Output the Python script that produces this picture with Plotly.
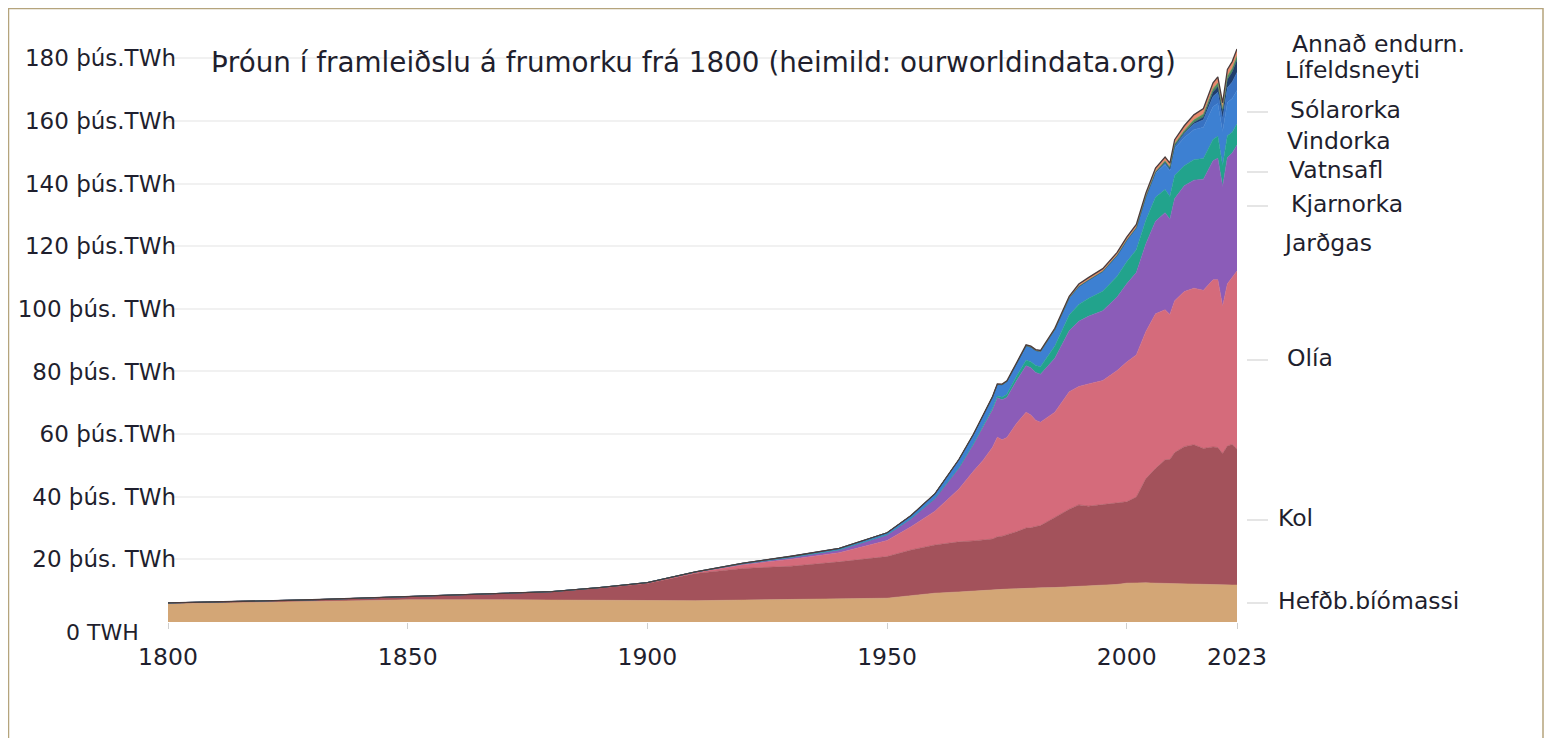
import plotly.graph_objects as go

# ---------------- data (þúsund TWh) ----------------
years = [1800, 1810, 1820, 1830, 1840, 1850, 1860, 1870, 1880, 1890,
         1900, 1910, 1920, 1930, 1940, 1950, 1955, 1960, 1965, 1968,
         1970, 1972, 1973, 1974, 1975, 1977, 1979, 1980, 1981, 1982,
         1985, 1988, 1990, 1992, 1995, 1998, 2000, 2002, 2004, 2006,
         2008, 2009, 2010, 2012, 2014, 2016, 2018, 2019, 2020, 2021,
         2022, 2023]

hefdb_biomassi = [5.8, 6.0, 6.2, 6.5, 6.8, 7.1, 7.2, 7.1, 7.0, 6.9,
                  6.7, 6.8, 7.0, 7.2, 7.4, 7.6, 8.4, 9.2, 9.6, 9.9,
                  10.2, 10.3, 10.4, 10.4, 10.5, 10.6, 10.8, 10.8, 10.9, 10.9,
                  11.0, 11.2, 11.3, 11.4, 11.7, 12.0, 12.4, 12.5, 12.5, 12.4,
                  12.3, 12.3, 12.2, 12.2, 12.1, 12.0, 11.9, 11.9, 11.8, 11.8,
                  11.8, 11.8]

kol = [0.3, 0.4, 0.5, 0.6, 0.8, 1.0, 1.4, 1.9, 2.6, 3.9,
       5.6, 8.7, 10.1, 10.6, 11.8, 13.3, 14.6, 15.4, 16.0, 16.0,
       16.0, 16.2, 16.8, 17.0, 17.4, 18.2, 19.2, 19.3, 19.6, 19.9,
       22.4, 24.8, 26.1, 25.6, 25.8, 25.9, 26.0, 27.4, 33.3, 36.6,
       39.5, 39.6, 41.9, 43.8, 44.5, 43.4, 44.0, 43.8, 42.0, 44.4,
       44.9, 43.4]

olia = [0, 0, 0, 0, 0, 0, 0, 0, 0.1, 0.2,
        0.2, 0.3, 1.2, 2.2, 2.9, 5.1, 7.4, 10.8, 16.9, 22.2,
        25.4, 29.3, 31.8, 30.8, 31.0, 34.6, 37.0, 36.0, 33.9, 33.0,
        33.6, 37.5, 37.8, 39.0, 39.6, 42.4, 44.6, 45.4, 47.0, 49.4,
        47.9, 46.3, 48.5, 49.5, 50.0, 50.5, 53.4, 53.6, 47.0, 51.8,
        53.2, 56.9]

jardgas = [0, 0, 0, 0, 0, 0, 0, 0, 0, 0,
           0.1, 0.15, 0.3, 0.6, 0.9, 1.8, 2.6, 4.0, 6.7, 8.6,
           10.7, 12.0, 12.6, 12.8, 12.8, 13.6, 14.8, 15.1, 15.3, 15.3,
           17.2, 19.5, 20.8, 21.6, 22.3, 23.5, 25.0, 26.3, 28.0, 29.6,
           31.0, 30.4, 32.6, 33.8, 34.5, 35.5, 38.0, 38.8, 38.3, 40.3,
           39.9, 40.2]

kjarnorka = [0, 0, 0, 0, 0, 0, 0, 0, 0, 0,
             0, 0, 0, 0, 0, 0, 0, 0, 0.07, 0.14,
             0.22, 0.43, 0.56, 0.77, 1.0, 1.5, 1.8, 1.9, 2.2, 2.4,
             3.9, 5.0, 5.4, 5.7, 6.2, 6.6, 7.0, 7.3, 7.6, 7.6,
             7.4, 7.3, 7.4, 6.4, 6.5, 6.6, 6.8, 7.0, 6.7, 7.0,
             6.6, 6.8]

vatnsafl = [0, 0, 0, 0, 0, 0, 0, 0, 0, 0,
            0, 0.05, 0.2, 0.4, 0.5, 0.7, 1.0, 1.6, 2.6, 3.0,
            3.3, 3.6, 3.7, 4.0, 4.1, 4.2, 4.6, 4.7, 4.8, 4.9,
            5.3, 5.5, 5.7, 5.8, 6.3, 6.6, 6.8, 6.8, 7.2, 7.6,
            8.0, 8.0, 8.5, 9.0, 9.6, 10.0, 10.4, 10.5, 10.8, 10.6,
            10.8, 10.6]

vindorka = [0, 0, 0, 0, 0, 0, 0, 0, 0, 0,
            0, 0, 0, 0, 0, 0, 0, 0, 0, 0,
            0, 0, 0, 0, 0, 0, 0, 0, 0, 0,
            0, 0, 0.01, 0.01, 0.02, 0.04, 0.08, 0.14, 0.22, 0.35,
            0.6, 0.75, 0.9, 1.3, 1.8, 2.4, 3.3, 3.6, 4.0, 4.7,
            5.2, 5.8]

solarorka = [0, 0, 0, 0, 0, 0, 0, 0, 0, 0,
             0, 0, 0, 0, 0, 0, 0, 0, 0, 0,
             0, 0, 0, 0, 0, 0, 0, 0, 0, 0,
             0, 0, 0, 0, 0, 0, 0.01, 0.01, 0.02, 0.03,
             0.06, 0.08, 0.1, 0.26, 0.5, 0.85, 1.45, 1.8, 2.2, 2.6,
             3.2, 4.0]

lifeldsneyti = [0, 0, 0, 0, 0, 0, 0, 0, 0, 0,
                0, 0, 0, 0, 0, 0, 0, 0, 0, 0,
                0, 0, 0, 0, 0, 0, 0, 0, 0, 0,
                0, 0, 0.1, 0.1, 0.11, 0.12, 0.13, 0.14, 0.18, 0.3,
                0.5, 0.55, 0.6, 0.7, 0.85, 0.95, 1.05, 1.1, 1.0, 1.15,
                1.2, 1.3]

annad_endurn = [0, 0, 0, 0, 0, 0, 0, 0, 0, 0,
                0, 0, 0, 0, 0, 0, 0, 0, 0.1, 0.12,
                0.15, 0.17, 0.18, 0.2, 0.2, 0.25, 0.3, 0.3, 0.3, 0.3,
                0.4, 0.5, 0.7, 0.75, 0.8, 0.85, 0.9, 0.95, 1.0, 1.1,
                1.2, 1.25, 1.3, 1.5, 1.6, 1.75, 1.9, 2.0, 2.0, 2.1,
                2.15, 2.2]

series_names = ["Hefðb.bíómassi", "Kol", "Olía", "Jarðgas", "Kjarnorka",
                "Vatnsafl", "Vindorka", "Sólarorka", "Lífeldsneyti", "Annað endurn."]
series_values = [hefdb_biomassi, kol, olia, jardgas, kjarnorka,
                 vatnsafl, vindorka, solarorka, lifeldsneyti, annad_endurn]

y_tickvals = [0, 20, 40, 60, 80, 100, 120, 140, 160, 180]
y_ticktext = ["", "20 þús. TWh", "40 þús. TWh", "60 þús.TWh", "80 þús. TWh",
              "100 þús. TWh", "120 þús.TWh", "140 þús.TWh", "160 þús.TWh", "180 þús.TWh"]
zero_label = "0 TWH"
x_tickvals = [1800, 1850, 1900, 1950, 2000, 2023]
x_ticktext = ["1800", "1850", "1900", "1950", "2000", "2023"]

title_text = "Þróun í framleiðslu á frumorku frá 1800 (heimild: ourworldindata.org)"

# ---------------- styling ----------------
colors = ["#d3a676", "#a3525b", "#d56b7b", "#8b5cb8", "#22a38c",
          "#3d80d2", "#3872c2", "#1f3d6c", "#4f8f5a", "#e88a6c"]

FONT = "DejaVu Sans"
TXT = "#1f1f2e"

OFF = 8                     # page body margin: the figure starts at (8, 8)
W, H = 1554 - OFF, 738 - OFF
PLOT_L, PLOT_R, PLOT_T, PLOT_B = 168, 1237, 27, 622   # page pixels
ML, MR = PLOT_L - OFF, (1554 - PLOT_R)
MT, MB = PLOT_T - OFF, 738 - PLOT_B
PW, PH = PLOT_R - PLOT_L, PLOT_B - PLOT_T


def px_x(px):
    return (px - PLOT_L) / PW


def px_y(py):
    return (PLOT_B - py) / PH


fig = go.Figure()
for i, (name, vals) in enumerate(zip(series_names, series_values)):
    top = (i == len(series_names) - 1)
    fig.add_trace(go.Scatter(
        x=years, y=vals, name=name, mode="lines",
        stackgroup="one",
        line=dict(width=1.3 if top else 0.6,
                  color="#4a3c3c" if top else colors[i]),
        fillcolor=colors[i],
        showlegend=False,
        hoverinfo="x+y+name",
    ))

# right-hand labels
label_pos = [  # (left px, centre px) in page pixels
    (1276, 601), (1276, 518), (1285, 358), (1281, 243), (1289, 204),
    (1287, 170), (1285, 141), (1288, 110), (1283, 70), (1290, 44)
]
annotations = []
for name, (lx, ly) in zip(series_names, label_pos):
    annotations.append(dict(
        text=name, xref="paper", yref="paper", x=px_x(lx), y=px_y(ly),
        xanchor="left", yanchor="middle", showarrow=False,
        font=dict(family=FONT, size=23.5, color=TXT)))

annotations.append(dict(
    text=title_text, xref="paper", yref="paper", x=px_x(209), y=px_y(62),
    xanchor="left", yanchor="middle", showarrow=False,
    font=dict(family=FONT, size=27.8, color=TXT)))

# the zero label sits lower and further left than the others
annotations.append(dict(
    text=zero_label, xref="paper", yref="paper", x=px_x(141), y=px_y(632),
    xanchor="right", yanchor="middle", showarrow=False,
    font=dict(family=FONT, size=22, color=TXT)))

shapes = [
    # outer frame
    dict(type="rect", xref="paper", yref="paper",
         x0=px_x(8.5), x1=px_x(1543), y0=px_y(760), y1=px_y(8.5),
         line=dict(color="#b5a47c", width=1.5), fillcolor="rgba(0,0,0,0)", layer="below"),
]
# faint leader lines beside labels
for ly in [601, 518, 358, 204, 170, 110]:
    shapes.append(dict(type="line", xref="paper", yref="paper",
                       x0=px_x(1247), x1=px_x(1268), y0=px_y(ly + 2), y1=px_y(ly + 2),
                       line=dict(color="#dcdcdc", width=1.5)))

fig.update_layout(
    width=W, height=H, autosize=False,
    margin=dict(l=ML, r=MR, t=MT, b=MB, pad=0),
    paper_bgcolor="white", plot_bgcolor="white",
    template="none",
    font=dict(family=FONT, size=23, color=TXT),
    annotations=annotations, shapes=shapes,
    showlegend=False,
    xaxis=dict(range=[1800, 2023], tickvals=x_tickvals, ticktext=x_ticktext,
               showgrid=False, zeroline=False, showline=False,
               ticks="outside", ticklen=6, tickcolor="#cfcfcf", tickwidth=1,
               tickfont=dict(family=FONT, size=23.5, color=TXT),
               ticklabelstandoff=8, automargin=False, fixedrange=True),
    yaxis=dict(range=[0, 190], tickvals=y_tickvals, ticktext=y_ticktext,
               showgrid=True, gridcolor="#f1f1f1", gridwidth=1.5,
               zeroline=False, showline=False, ticks="",
               tickfont=dict(family=FONT, size=23, color=TXT),
               ticklabelstandoff=-9,
               automargin=False, fixedrange=True),
)

fig.write_html("out.html")
